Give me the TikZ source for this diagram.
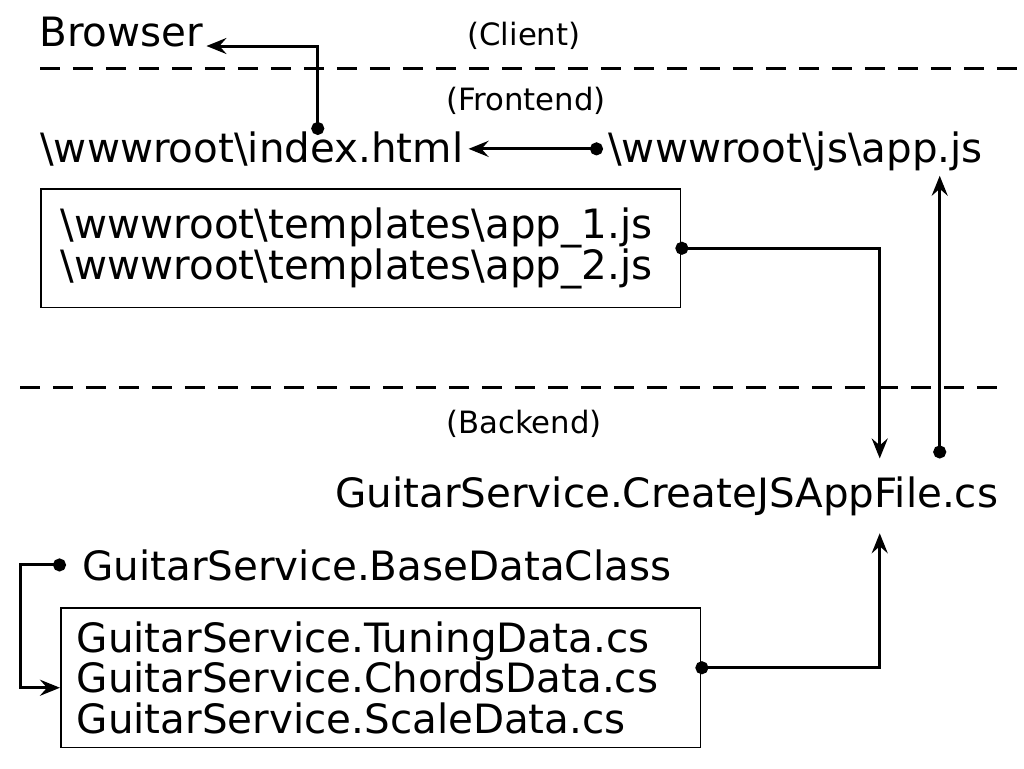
\documentclass[tikz,border=0pt]{standalone}
\usepackage{fontspec}
\setmainfont{DejaVu Sans}
\usepackage{tikz}
\usetikzlibrary{arrows.meta,positioning,calc}
\tikzset{
  fname/.style={font=\fontsize{23}{23}\selectfont,inner sep=0.1cm},
  note/.style={font=\fontsize{17.5}{20}\selectfont,inner sep=0pt,anchor=base},
  filebox/.style={draw,line width=0.03cm,align=left,anchor=north west,
    font=\fontsize{23}{23}\selectfont},
  link/.style={{Circle[length=0.26cm]}-{Stealth[length=0.4cm,width=0.32cm,inset=0.14cm]},line width=0.06cm},
  tierline/.style={line width=0.06cm,dash pattern=on 0.4cm off 0.26cm},
}
\newcommand{\bs}{\textbackslash}
\begin{document}
\begin{tikzpicture}[x=0.02cm,y=-0.02cm]
  \useasboundingbox (0,0) rectangle (1024,768);
  % tiers
  \node[note] (client) at (524,45) {(Client)};
  \draw[tierline] (40,68) -- (1024,68);
  \node[note] (frontend) at (526,110) {(Frontend)};
  \draw[tierline] (20,387) -- (1000,387);
  \node[note] (backend) at (524,433) {(Backend)};
  % files
  \node[fname,anchor=base west,inner sep=0.06cm] (browser) at (36,46) {Browser};
  \node[fname,anchor=base west] (index) at (35,162) {\bs wwwroot\bs index.html};
  \node[fname,anchor=base west] (appjs) at (603,162) {\bs wwwroot\bs js\bs app.js};
  \node[filebox,text width=12cm,inner xsep=0.4cm,minimum height=2.38cm] (tmpl) at (40,188)
    {\bs wwwroot\bs templates\bs app\_1.js\\ \bs wwwroot\bs templates\bs app\_2.js};
  \node[fname,anchor=base west,inner ysep=0.35cm] (create) at (330,507) {GuitarService.CreateJSAppFile.cs};
  \node[fname,anchor=base west] (base) at (77,580) {GuitarService.BaseDataClass};
  \node[filebox,text width=12.16cm,inner xsep=0.32cm,minimum height=2.8cm] (data) at (60,607)
    {GuitarService.TuningData.cs\\ GuitarService.ChordsData.cs\\ GuitarService.ScaleData.cs};
  % connectors
  \coordinate (up) at ([xshift=5.46cm]create.north);
  \draw[link] ([xshift=1.32cm,yshift=-0.18cm]index.north) |- (browser.base east);
  \draw[link] ([yshift=0.04cm]appjs.west) -- ([yshift=0.04cm]index.east |- appjs.west);
  \draw[link] ([xshift=-0.12cm]tmpl.east) -| ([xshift=4.26cm]create.north);
  \draw[link] (up) -- (up |- appjs.south);
  \draw[link] ([xshift=-0.12cm,yshift=0.2cm]data.east) -| ([xshift=4.26cm]create.south);
  \draw[link] ([xshift=-0.22cm]base.west) -- ++(-0.92cm,0) |- ([yshift=-0.2cm]data.west);
\end{tikzpicture}
\end{document}
